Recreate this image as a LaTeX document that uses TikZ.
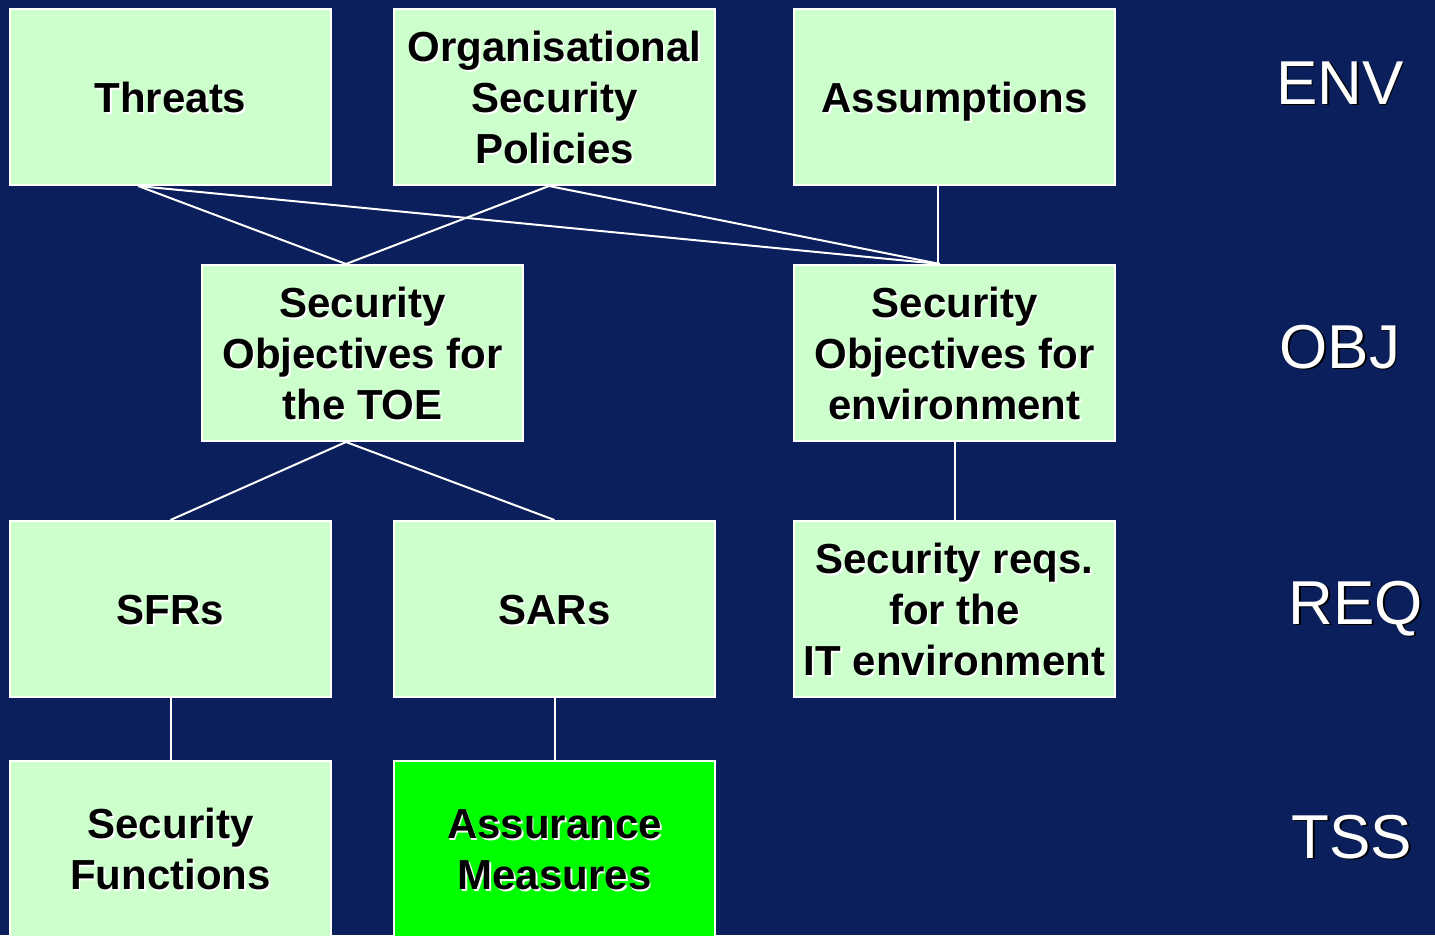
\documentclass[tikz,border=0pt]{standalone}
\usepackage{fontspec}
\setmainfont{Liberation Sans}
\usetikzlibrary{calc}
\definecolor{navy}{HTML}{0A1F5C}
\definecolor{mint}{HTML}{CCFFCC}
\definecolor{brightgreen}{HTML}{00FF00}
% text drawn twice: an offset shadow copy under the main copy
\newcommand\shtxt[3]{%
  \rlap{\kern1.6pt\raisebox{-1.6pt}{\color{#1}\begin{tabular}{@{}c@{}}#3\end{tabular}}}%
  {\color{#2}\begin{tabular}{@{}c@{}}#3\end{tabular}}}
\newcommand\boxtext[1]{\shtxt{white}{black}{#1}}
\newcommand\leveltext[1]{\shtxt{black}{white}{#1}}
\begin{document}
\begin{tikzpicture}[x=1pt,y=-1pt,
  box/.style={draw=white,line width=2pt,fill=mint,minimum width=321pt,
    minimum height=176pt,inner sep=0pt},
  txt/.style={inner sep=0pt,yshift=-6pt,
    font=\fontsize{42}{51}\selectfont\bfseries},
  level/.style={inner sep=0pt,font=\fontsize{62}{70}\selectfont},
  link/.style={draw=white,line width=2pt}]
\useasboundingbox (0,0) rectangle (1435,935);
\fill[navy] (0,0) rectangle (1435,935);

% environment
\node[box] (threats) at (170.5,97) {};
\node[box] (osp) at (554.5,97) {};
\node[box] (assum) at (954.5,97) {};
% objectives
\node[box] (objtoe) at (362.5,353) {};
\node[box] (objenv) at (954.5,353) {};
% requirements
\node[box] (sfr) at (170.5,609) {};
\node[box] (sar) at (554.5,609) {};
\node[box] (itreq) at (954.5,609) {};
% summary specification
\node[box] (secfun) at (170.5,849) {};
\node[box,fill=brightgreen] (assmeas) at (554.5,849) {};

% box texts
\node[txt] (threats-t) at (threats.center) {\boxtext{Threats}};
\node[txt] (osp-t) at (osp.center) {\boxtext{Organisational\\Security\\Policies}};
\node[txt] (assum-t) at (assum.center) {\boxtext{Assumptions}};
\node[txt] (objtoe-t) at (objtoe.center) {\boxtext{Security\\Objectives for\\the TOE}};
\node[txt] (objenv-t) at (objenv.center) {\boxtext{Security\\Objectives for\\environment}};
\node[txt] (sfr-t) at (sfr.center) {\boxtext{SFRs}};
\node[txt] (sar-t) at (sar.center) {\boxtext{SARs}};
\node[txt] (itreq-t) at (itreq.center) {\boxtext{Security reqs.\\for the\\IT environment}};
\node[txt] (secfun-t) at (secfun.center) {\boxtext{Security\\Functions}};
\node[txt] (assmeas-t) at (assmeas.center) {\boxtext{Assurance\\Measures}};

% level labels
\node[level] (lenv) at (1340,91) {\leveltext{ENV}};
\node[level] (lobj) at (1340,355) {\leveltext{OBJ}};
\node[level] (lreq) at (1356,611) {\leveltext{REQ}};
\node[level] (ltss) at (1352,845) {\leveltext{TSS}};

% attachment points
\coordinate (thB) at ($(threats.south west)!0.40!(threats.south east)$);
\coordinate (ospB) at ($(osp.south west)!0.483!(osp.south east)$);
\coordinate (asB) at ($(assum.south west)!0.449!(assum.south east)$);
\coordinate (toeT) at ($(objtoe.north west)!0.449!(objtoe.north east)$);
\coordinate (toeB) at ($(objtoe.south west)!0.449!(objtoe.south east)$);
\coordinate (envT) at ($(objenv.north west)!0.455!(objenv.north east)$);

% connectors
\draw[link] (thB) -- (toeT);
\draw[link] (thB) -- (envT);
\draw[link] (ospB) -- (toeT);
\draw[link] (ospB) -- (envT);
\draw[link] (asB) -- (asB |- objenv.north);
\draw[link] (toeB) -- (sfr.north);
\draw[link] (toeB) -- (sar.north);
\draw[link] (objenv.south) -- (itreq.north);
\draw[link] (sfr.south) -- (secfun.north);
\draw[link] (sar.south) -- (assmeas.north);
\end{tikzpicture}
\end{document}
